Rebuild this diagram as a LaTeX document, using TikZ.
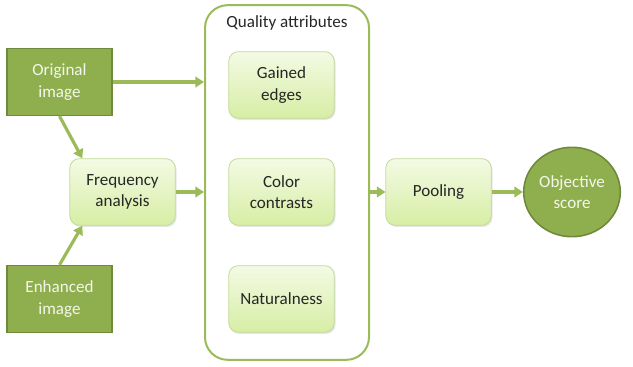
\documentclass[tikz,border=0pt]{standalone}
\usepackage{fontspec}
\setmainfont{Carlito}
\usepackage{tikz}
\usetikzlibrary{positioning,calc,shapes.geometric,arrows.meta,shadows}

\definecolor{imgfill}{HTML}{8FAF4F}
\definecolor{imgedge}{HTML}{6E8B3D}
\definecolor{imgtext}{HTML}{F3F7EA}
\definecolor{steptop}{HTML}{F4FAE4}
\definecolor{stepbottom}{HTML}{D6EEA4}
\definecolor{stepedge}{HTML}{C2D99A}
\definecolor{linkgreen}{HTML}{9BBB59}

\begin{document}
\begin{tikzpicture}[x=0.75pt, y=-0.75pt,
    font=\fontsize{12.8}{16}\selectfont,
    imgbox/.style={rectangle, draw=imgedge, line width=1.2pt, fill=imgfill,
        text=imgtext, minimum width=79pt, minimum height=50pt, align=center},
    stepbox/.style={rectangle, rounded corners=7pt, draw=stepedge, line width=0.6pt,
        top color=steptop, bottom color=stepbottom, text=black!85,
        minimum width=79pt, minimum height=50pt, align=center,
        drop shadow={opacity=0.2, shadow xshift=1pt, shadow yshift=-1.2pt}},
    flow/.style={-{Triangle[length=6.5pt,width=8pt]}, line width=2.4pt, draw=linkgreen}]

    \useasboundingbox (0,0) rectangle (633,367);

    % Group frame for the attributes
    \node [rectangle, rounded corners=17pt, draw=linkgreen, line width=1.5pt,
        minimum width=123pt, minimum height=266pt] (qa) at (287,182.5) {};
    \node [text=black!85] (qatitle) at (287,23) {Quality attributes};

    % Inputs
    \node [imgbox] (orig) at (59.5,82) {Original\\image};
    \node [imgbox] (enh) at (59.5,299) {Enhanced\\image};

    % Processing steps
    \node [stepbox] (freq) at (122.5,192) {Frequency\\analysis};
    \node [stepbox] (edges) at (281.5,85) {Gained\\edges};
    \node [stepbox] (contr) at (281.5,192) {Color\\contrasts};
    \node [stepbox] (nat) at (281.5,299) {Naturalness};
    \node [stepbox] (pool) at (438.5,192) {Pooling};

    % Output
    \node [ellipse, draw=imgedge, line width=1.2pt, fill=imgfill, text=imgtext,
        minimum width=72pt, minimum height=67pt, inner sep=1pt, align=center] (score) at (572,192) {Objective\\score};

    % Connections
    \draw [flow] (orig.east) -- (orig.east -| qa.west);
    \draw [flow] (orig.south) -- (freq.140);
    \draw [flow] (enh.north) -- (freq.220);
    \draw [flow] (freq.east) -- (freq.east -| qa.west);
    \draw [flow] (qa.east |- pool.west) -- (pool.west);
    \draw [flow] (pool.east) -- (score.west);
\end{tikzpicture}
\end{document}
